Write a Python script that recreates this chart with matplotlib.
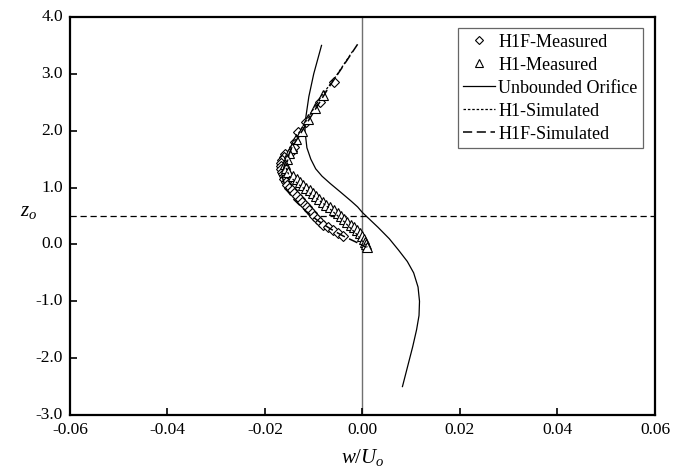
import matplotlib
matplotlib.use("Agg")
import matplotlib.pyplot as plt
from matplotlib.transforms import ScaledTranslation

plt.rcParams['font.family'] = ['Liberation Serif', 'DejaVu Serif']
plt.rcParams['mathtext.fontset'] = 'custom'
plt.rcParams['mathtext.it'] = 'Liberation Serif:italic'
plt.rcParams['mathtext.rm'] = 'Liberation Serif'

# H1F-Measured (diamonds)
h1f_z = [2.85, 2.5, 2.15, 1.97, 1.8, 1.72, 1.65, 1.59, 1.53, 1.48, 1.43, 1.38, 1.33, 1.28, 1.24,
         1.2, 1.15, 1.1, 1.05, 1.0, 0.95, 0.9, 0.85, 0.8, 0.75, 0.7, 0.65, 0.6, 0.55, 0.5,
         0.45, 0.4, 0.35, 0.3, 0.25, 0.2, 0.15]
h1f_w = [-0.0058, -0.0088, -0.0115, -0.0132, -0.0138, -0.0141, -0.0145, -0.0158, -0.0162, -0.0165,
         -0.0167, -0.0168, -0.0168, -0.0165, -0.0163, -0.0162, -0.0160, -0.0157, -0.0154, -0.0150,
         -0.0145, -0.0140, -0.0135, -0.0129, -0.0124, -0.0118, -0.0114, -0.0109, -0.0104, -0.0099,
         -0.0093, -0.0087, -0.0080, -0.0070, -0.0060, -0.0050, -0.0040]

# H1-Measured (triangles)
h1_z = [2.62, 2.4, 2.2, 2.0, 1.85, 1.7, 1.6, 1.5, 1.42, 1.35, 1.28, 1.2, 1.15, 1.1, 1.05, 1.0,
        0.95, 0.9, 0.85, 0.8, 0.75, 0.7, 0.65, 0.6, 0.55, 0.5, 0.45, 0.4, 0.35, 0.3, 0.25,
        0.2, 0.15, 0.1, 0.05, 0.0, -0.05]
h1_w = [-0.0082, -0.0098, -0.0112, -0.0125, -0.0136, -0.0145, -0.0150, -0.0155, -0.0158, -0.0157,
        -0.0152, -0.0142, -0.0135, -0.0128, -0.0122, -0.0115, -0.0108, -0.0101, -0.0095, -0.0089,
        -0.0082, -0.0074, -0.0066, -0.0058, -0.0051, -0.0044, -0.0037, -0.0031, -0.0024, -0.0018,
        -0.0011, -0.0005, -0.0001, 0.0003, 0.0006, 0.0008, 0.0010]

# Unbounded Orifice
unb_w = [-0.0084, -0.0100, -0.0110, -0.0116, -0.0118, -0.0114, -0.0106, -0.0096, -0.0083, -0.0066,
         -0.0045, -0.0023, -0.0010, 0.0, 0.0016, 0.0032, 0.0055, 0.0074, 0.0092, 0.0105, 0.0114,
         0.0117, 0.0116, 0.0111, 0.0103, 0.0094, 0.0082]
unb_z = [3.5, 3.0, 2.6, 2.25, 2.0, 1.7, 1.5, 1.33, 1.2, 1.07, 0.92, 0.76, 0.66, 0.56, 0.43, 0.3,
         0.1, -0.1, -0.3, -0.5, -0.75, -1.0, -1.25, -1.5, -1.8, -2.1, -2.5]

# H1-Simulated
h1s_w = [-0.0020, -0.0055, -0.0085, -0.0110, -0.0135, -0.0150, -0.0157, -0.0150, -0.0130, -0.0100,
         -0.0070, -0.0040, -0.0012, 0.0010]
h1s_z = [3.4, 2.95, 2.6, 2.25, 1.9, 1.6, 1.35, 1.2, 1.05, 0.85, 0.65, 0.42, 0.18, -0.05]

# H1F-Simulated
h1fs_w = [-0.0010, -0.0041, -0.0070, -0.0095, -0.0120, -0.0145, -0.0160, -0.0165, -0.0158, -0.0142,
          -0.0118, -0.0092, -0.0065, -0.0040, -0.0013, 0.0008]
h1fs_z = [3.52, 3.12, 2.75, 2.4, 2.05, 1.7, 1.4, 1.2, 1.0, 0.8, 0.6, 0.42, 0.27, 0.15, 0.04, -0.05]

x_ticks = [-0.06, -0.04, -0.02, 0.0, 0.02, 0.04, 0.06]
x_tick_labels = ['-0.06', '-0.04', '-0.02', '0.00', '0.02', '0.04', '0.06']
y_ticks = [-3, -2, -1, 0, 1, 2, 3, 4]
y_tick_labels = ['-3.0', '-2.0', '-1.0', '0.0', '1.0', '2.0', '3.0', '4.0']

fig = plt.figure(figsize=(6.75, 4.77), dpi=100)
ax = fig.add_axes([0.1037, 0.1279, 0.8666, 0.8344])

ax.axvline(0.0, color='#707070', lw=1.0, zorder=1)
ax.axhline(0.5, color='black', lw=0.9, ls=(0, (5, 3)), zorder=1)

ax.plot(h1f_w, h1f_z, ls='none', marker='D', ms=5.5, mfc='white', mec='black', mew=0.8,
        label='H1F-Measured', zorder=3)
ax.plot(h1_w, h1_z, ls='none', marker='^', ms=7, mfc='white', mec='black', mew=0.8,
        label='H1-Measured', zorder=3)
ax.plot(unb_w, unb_z, color='black', lw=0.9, label='Unbounded Orifice', zorder=2)
ax.plot(h1s_w, h1s_z, color='black', lw=0.9, ls=(0, (2, 1.5)), label='H1-Simulated', zorder=4)
ax.plot(h1fs_w, h1fs_z, color='black', lw=1.1, ls=(0, (6, 3)), label='H1F-Simulated', zorder=4)

ax.set_xlim(-0.06, 0.06)
ax.set_ylim(-3.0, 4.0)
ax.set_xticks(x_ticks)
ax.set_xticklabels(x_tick_labels)
ax.set_yticks(y_ticks)
ax.set_yticklabels(y_tick_labels)
ax.tick_params(direction='in', length=5, width=1.2, labelsize=12.5, pad=4)
ax.tick_params(axis='y', pad=5)
shift = ScaledTranslation(0, 0.03, fig.dpi_scale_trans)
for lbl in ax.get_yticklabels():
    lbl.set_transform(lbl.get_transform() + shift)
for s in ax.spines.values():
    s.set_linewidth(1.6)

ax.set_xlabel(r'$w/U_o$', fontsize=15, labelpad=7)
ax.set_ylabel(r'$z_o$', fontsize=15, rotation=0)
ax.yaxis.set_label_coords(-0.07, 0.49)

leg = ax.legend(loc='upper right', bbox_to_anchor=(0.9795, 0.9724), borderaxespad=0,
                fontsize=13, frameon=True, fancybox=False, edgecolor='#404040',
                handlelength=1.8, handletextpad=0.15, labelspacing=0.33, borderpad=0.3,
                markerscale=0.8)
leg.get_frame().set_linewidth(0.9)

fig.savefig('out.png', dpi=100)
